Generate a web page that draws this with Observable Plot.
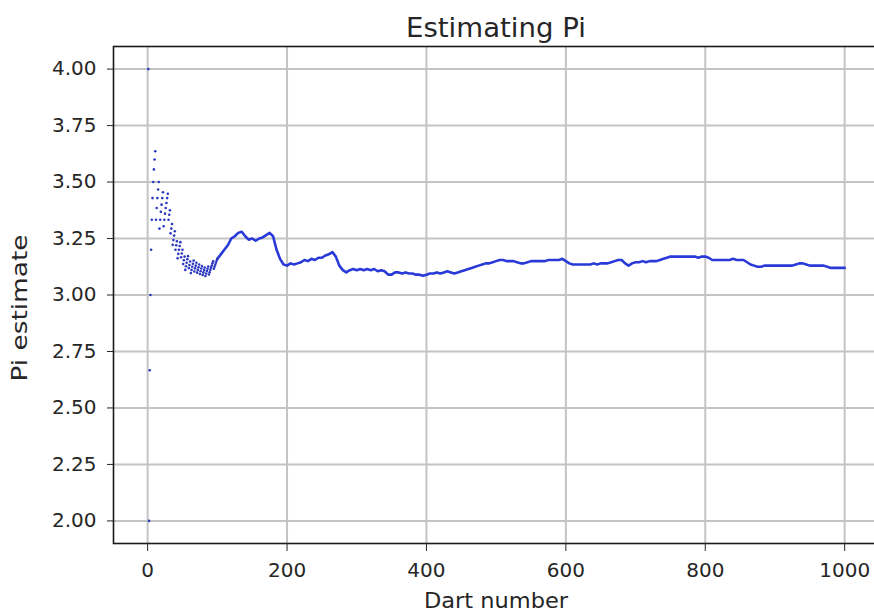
<!DOCTYPE html>
<html><head><meta charset="utf-8">
<script src="https://cdn.jsdelivr.net/npm/d3@7"></script>
<script src="https://cdn.jsdelivr.net/npm/@observablehq/plot@0.6"></script>
<style>
body{margin:0;background:#fff}
#wrap{width:874px;height:613px;overflow:hidden;position:relative;background:#fff}
#wrap svg{max-width:none !important}
</style>
</head><body><div id="wrap"></div>
<script>
// Pi estimate after each of the first 100 darts
const earlyDarts = d3.range(1, 101);
const earlyEstimates = [
  4.000, 2.000, 2.667, 3.000, 3.200, 3.333, 3.429, 3.500, 3.556, 3.600,
  3.636, 3.333, 3.385, 3.429, 3.467, 3.500, 3.294, 3.333, 3.368, 3.400,
  3.429, 3.455, 3.304, 3.333, 3.360, 3.385, 3.407, 3.429, 3.448, 3.333,
  3.355, 3.375, 3.273, 3.294, 3.314, 3.222, 3.243, 3.263, 3.282, 3.200,
  3.220, 3.238, 3.163, 3.182, 3.200, 3.217, 3.234, 3.167, 3.184, 3.200,
  3.137, 3.154, 3.170, 3.111, 3.127, 3.143, 3.158, 3.172, 3.119, 3.133,
  3.148, 3.097, 3.111, 3.125, 3.138, 3.152, 3.104, 3.118, 3.130, 3.143,
  3.099, 3.111, 3.123, 3.135, 3.093, 3.105, 3.117, 3.128, 3.089, 3.100,
  3.111, 3.122, 3.084, 3.095, 3.106, 3.116, 3.126, 3.091, 3.101, 3.111,
  3.121, 3.130, 3.140, 3.149, 3.116, 3.125, 3.134, 3.143, 3.152, 3.160
];
// Pi estimate read every 5 darts from dart 100 to dart 1000
const laterDarts = d3.range(100, 1001, 5);
const laterEstimates = [
  3.16,3.18,3.20,3.22,3.25,3.26,3.275,3.28,3.26,3.245,3.25,3.24,3.25,3.255,3.265,3.275,3.26,3.20,3.16,3.135,
  3.13,3.14,3.135,3.14,3.145,3.155,3.15,3.16,3.155,3.165,3.165,3.175,3.18,3.19,3.17,3.13,3.11,3.10,3.11,3.115,
  3.11,3.115,3.11,3.115,3.11,3.115,3.105,3.11,3.105,3.09,3.09,3.10,3.10,3.095,3.10,3.095,3.095,3.09,3.09,3.085,
  3.09,3.095,3.095,3.10,3.095,3.10,3.105,3.10,3.095,3.10,3.105,3.11,3.115,3.12,3.125,3.13,3.135,3.14,3.14,3.145,
  3.15,3.155,3.155,3.15,3.15,3.15,3.145,3.14,3.14,3.145,3.15,3.15,3.15,3.15,3.15,3.155,3.155,3.155,3.155,3.16,
  3.15,3.14,3.135,3.135,3.135,3.135,3.135,3.135,3.14,3.135,3.14,3.14,3.14,3.145,3.15,3.155,3.155,3.14,3.13,3.14,
  3.145,3.145,3.15,3.145,3.15,3.15,3.15,3.155,3.16,3.165,3.17,3.17,3.17,3.17,3.17,3.17,3.17,3.17,3.165,3.17,
  3.17,3.165,3.155,3.155,3.155,3.155,3.155,3.155,3.16,3.155,3.155,3.155,3.145,3.135,3.13,3.125,3.125,3.13,3.13,3.13,
  3.13,3.13,3.13,3.13,3.13,3.13,3.135,3.14,3.14,3.135,3.13,3.13,3.13,3.13,3.13,3.125,3.12,3.12,3.12,3.12,
  3.12
];
const xTicks = [0, 200, 400, 600, 800, 1000];
const yTicks = [2.00, 2.25, 2.50, 2.75, 3.00, 3.25, 3.50, 3.75, 4.00];
const titleText = "Estimating Pi";
const xLabel = "Dart number";
const yLabel = "Pi estimate";

const early = earlyDarts.map((n, i) => ({n, v: earlyEstimates[i]}));
const later = laterDarts.map((n, i) => ({n, v: laterEstimates[i]}));

const chart = Plot.plot({
  width: 880, height: 613,
  marginLeft: 113, marginRight: 1, marginTop: 46, marginBottom: 70,
  style: {fontFamily: "DejaVu Sans", background: "white", color: "#262626", maxWidth: "none"},
  x: {domain: [-48.95, 1049.95]},
  y: {domain: [1.9, 4.1]},
  marks: [
    Plot.gridX(xTicks, {stroke: "#c4c4c4", strokeOpacity: 1, strokeWidth: 2}),
    Plot.gridY(yTicks, {stroke: "#c4c4c4", strokeOpacity: 1, strokeWidth: 2}),
    Plot.line(later, {x: "n", y: "v", stroke: "#2a3ad8", strokeWidth: 2.6}),
    Plot.dot(early, {x: "n", y: "v", r: 1.3, fill: "#2b38c0", stroke: null}),
    Plot.frame({stroke: "#1a1a1a", strokeWidth: 1.6}),
    Plot.axisX(xTicks, {tickSize: 8, tickPadding: 11, fontSize: 20, tickFormat: d => String(d), label: null}),
    Plot.axisY(yTicks, {tickSize: 6, tickPadding: 11, fontSize: 20, tickFormat: d3.format(".2f"), label: null})
  ]
});
chart.style.maxWidth = "none";

const svg = d3.select(chart);
svg.append("text").attr("x", 496).attr("y", 37).attr("text-anchor", "middle")
  .attr("font-size", 26).attr("fill", "#262626").attr("textLength", 180)
  .attr("lengthAdjust", "spacingAndGlyphs").text(titleText);
svg.append("text").attr("x", 496).attr("y", 608).attr("text-anchor", "middle")
  .attr("font-size", 21).attr("fill", "#262626").attr("textLength", 144)
  .attr("lengthAdjust", "spacingAndGlyphs").text(xLabel);
svg.append("text").attr("transform", "translate(27,308) rotate(-90)").attr("text-anchor", "middle")
  .attr("font-size", 21).attr("fill", "#262626").attr("textLength", 147)
  .attr("lengthAdjust", "spacingAndGlyphs").text(yLabel);

document.getElementById("wrap").appendChild(chart);
</script>
</body></html>
